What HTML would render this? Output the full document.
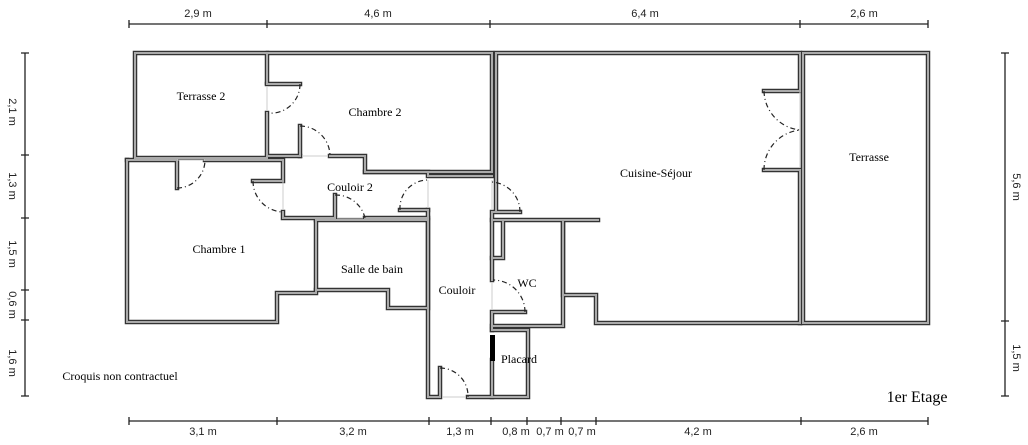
<!DOCTYPE html>
<html><head><meta charset="utf-8"><style>
html,body{margin:0;padding:0;background:#fff;}
svg{display:block}
.w{fill:none;stroke:#333;stroke-width:4.5;stroke-linejoin:miter;stroke-linecap:square}
.wi{fill:none;stroke:#aaa;stroke-width:2;stroke-linejoin:miter;stroke-linecap:square}
.d{fill:none;stroke:#222;stroke-width:1.2;stroke-dasharray:5 3 1 3}
.g{stroke:#ccc;stroke-width:1;fill:none}
.dim{stroke:#222;stroke-width:1.3;fill:none}
.lt{font-family:"Liberation Serif",serif;font-size:12px;fill:#000;text-anchor:middle}
.dt{font-family:"Liberation Sans",sans-serif;font-size:11px;fill:#222;text-anchor:middle}
</style></head><body>
<svg width="1028" height="445" viewBox="0 0 1028 445" xmlns="http://www.w3.org/2000/svg">
<defs>
<g id="walls">
<path d="M267 83V53H135V158H267V113"/>
<path d="M267 84H300"/>
<path d="M268 53H492V172H365V156H330M300 156H268"/>
<path d="M300 126V156"/>
<path d="M127 160V322H277V293H316V220"/>
<path d="M127 160H177M177 160V188M205 160H283V180M253 181H283M283 212V218H335M335 195V218M365 218H428"/>
<path d="M316 220H428V308H388V290H316"/>
<path d="M428 210V397H440M440 368V397M468 397H492V360"/>
<path d="M400 210H428M365 172H428V176H492"/>
<path d="M492 212H520M492 212V280M492 312H525M492 313V330"/>
<path d="M492 220H598M503 222V258H492M563 222V295H596V323H800"/>
<path d="M492 326H563V222"/>
<path d="M492 330H528V397H492"/>
<path d="M496 210V53H800V90M764 91H800M764 170H800M800 170V323"/>
<path d="M803 53H928V323H803Z"/>
</g>
</defs>
<!-- dimension lines -->
<g class="dim">
<path d="M129 24H928"/>
<path d="M129 20v8M267 20v8M490 20v8M800 20v8M928 20v8"/>
<path d="M129 421H928"/>
<path d="M129 417v8M277 417v8M429 417v8M491 417v8M527 417v8M561 417v8M596 417v8M801 417v8M928 417v8"/>
<path d="M25 53V396"/>
<path d="M21 53h8M21 155h8M21 218h8M21 290h8M21 320h8M21 396h8"/>
<path d="M1005 53V396"/>
<path d="M1001 53h8M1001 321h8M1001 396h8"/>
</g>
<g class="dt">
<text x="198" y="17">2,9 m</text><text x="378" y="17">4,6 m</text><text x="645" y="17">6,4 m</text><text x="864" y="17">2,6 m</text>
<text x="203" y="435">3,1 m</text><text x="353" y="435">3,2 m</text><text x="460" y="435">1,3 m</text><text x="516" y="435">0,8 m</text><text x="550" y="435">0,7 m</text><text x="582" y="435">0,7 m</text><text x="698" y="435">4,2 m</text><text x="864" y="435">2,6 m</text>
<text transform="translate(9,112) rotate(90)">2,1 m</text>
<text transform="translate(9,186) rotate(90)">1,3 m</text>
<text transform="translate(9,254) rotate(90)">1,5 m</text>
<text transform="translate(9,305) rotate(90)">0,6 m</text>
<text transform="translate(9,363) rotate(90)">1,6 m</text>
<text transform="translate(1013,187) rotate(90)">5,6 m</text>
<text transform="translate(1013,358) rotate(90)">1,5 m</text>
</g>
<use href="#walls" class="w"/>
<use href="#walls" class="wi"/>
<rect x="490" y="335" width="5" height="26" fill="#000"/>
<!-- gap lines -->
<g class="g">
<path d="M267 86V111M177 160H205M283 182V210M302 156H328M337 218H363M428 180V208M442 397H466M800 92V168M492 180V210M492 282V310"/>
</g>
<!-- door arcs -->
<g class="d">
<path d="M300 84A29 29 0 0 1 268 113"/>
<path d="M300 126A30 30 0 0 1 330 156"/>
<path d="M177 188A28 28 0 0 0 205 160"/>
<path d="M253 181A31 31 0 0 0 283 212"/>
<path d="M335 195A30 30 0 0 1 365 218"/>
<path d="M400 210A28 28 0 0 1 428 180"/>
<path d="M440 368A28 28 0 0 1 468 397"/>
<path d="M520 212A30 30 0 0 0 492 182"/>
<path d="M525 312A32 32 0 0 0 493 280"/>
<path d="M764 91A40 40 0 0 0 800 130"/>
<path d="M764 170A40 40 0 0 1 800 130"/>
</g>
<!-- labels -->
<g class="lt">
<text x="201" y="100">Terrasse 2</text>
<text x="375" y="116">Chambre 2</text>
<text x="350" y="191">Couloir 2</text>
<text x="219" y="253">Chambre 1</text>
<text x="372" y="273">Salle de bain</text>
<text x="457" y="294">Couloir</text>
<text x="527" y="287">WC</text>
<text x="519" y="363">Placard</text>
<text x="656" y="177">Cuisine-Séjour</text>
<text x="869" y="161">Terrasse</text>
<text x="120" y="380">Croquis non contractuel</text>
<text x="917" y="402" style="font-size:16px">1er Etage</text>
</g>
</svg>
</body></html>
